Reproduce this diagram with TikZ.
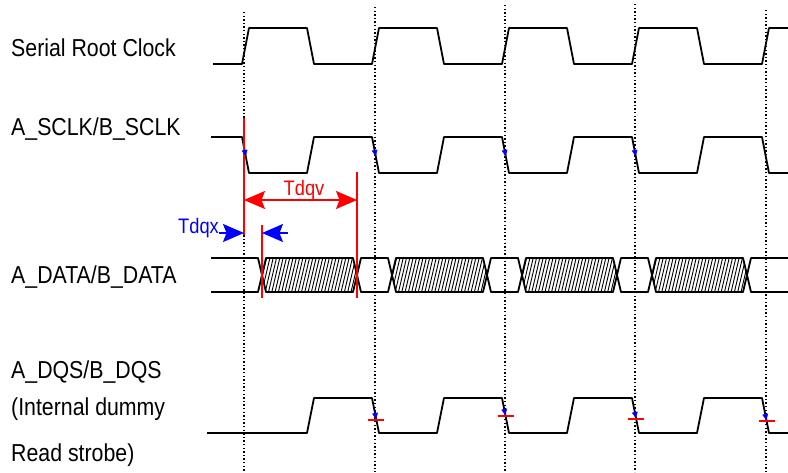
\documentclass[tikz,border=0pt]{standalone}
\usepackage{fontspec}
\setmainfont{Liberation Sans}[FakeStretch=0.87]
\usetikzlibrary{arrows.meta,positioning,calc}

\begin{document}
\begin{tikzpicture}[x=1pt, y=-1pt, >={Stealth[length=21pt,width=18pt,inset=3.5pt]},
  wave/.style={line width=1.8pt, line join=round},
  grid/.style={line width=1.4pt, dash pattern=on 1.4pt off 2.2pt},
  marker/.style={red, line width=1.7pt},
  signame/.style={anchor=base west, inner sep=0pt, font=\fontsize{24.5}{28}\selectfont},
  tlabel/.style={inner sep=0pt, font=\fontsize{21}{24}\selectfont},
  edgetip/.style={blue, line width=0.4pt, -{Latex[length=7pt,width=6pt]}},
  hatch/.style={line width=0.9pt}]

  \useasboundingbox (0,0) rectangle (788,472);

  % Signal names
  \node[signame] (clk)  at (11,56)  {Serial Root Clock};
  \node[signame] (sclk) at (11,135) {A\_SCLK/B\_SCLK};
  \node[signame] (data) at (11,283) {A\_DATA/B\_DATA};
  \node[signame] (dqs)  at (11,378) {A\_DQS/B\_DQS};
  \node[signame] (dqs2) at (11,415) {(Internal dummy};
  \node[signame] (dqs3) at (11,461) {Read strobe)};

  % Dotted grid
  \foreach \x/\t in {244/12, 375/7, 505/5, 635/4, 766/10}
    \draw[grid] (\x,\t) -- (\x,472);

  % Clocks
  \draw[wave] (213,64) \foreach \s in {0,130,260,390} {-- (242+\s,64) -- (249+\s,28) -- (307+\s,28) -- (314+\s,64)} -- (762,64) -- (769,28) -- (788,28);
  \draw[wave] (211,137) \foreach \s in {0,130,260,390} {-- (242+\s,137) -- (249+\s,173) -- (307+\s,173) -- (314+\s,137)} -- (762,137) -- (769,173) -- (788,173);
  \draw[wave] (207,433) \foreach \s in {0,130,260,390} {-- (307+\s,433) -- (314+\s,398) -- (372+\s,398) -- (379+\s,433)} -- (788,433);

  % Data
  \draw[wave] (211,258) -- (258,258) -- (262,275) -- (258,292) -- (211,292);
  \foreach \a in {357,487,617}
    \draw[wave] (\a,275) -- (\a+4,258) -- (\a+31,258) -- (\a+35,275) -- (\a+31,292) -- (\a+4,292) -- cycle;
  \draw[wave] (788,258) -- (751,258) -- (747,275) -- (751,292) -- (788,292);
  \foreach \a in {262,392,522,652} {
    \begin{scope}
      \clip (\a,275) -- (\a+4,258) -- (\a+91,258) -- (\a+95,275) -- (\a+91,292) -- (\a+4,292) -- cycle;
      \foreach \h in {0,3.3,...,110}
        \draw[hatch] (\a-10+\h,292) -- (\a-2+\h,258);
    \end{scope}
    \draw[wave] (\a,275) -- (\a+4,258) -- (\a+91,258) -- (\a+95,275) -- (\a+91,292) -- (\a+4,292) -- cycle;
  }

  % Timing markers
  \coordinate (r0t) at (244,118);
  \coordinate (r0b) at (244,235);
  \coordinate (r1t) at (357,172);
  \coordinate (r1b) at (357,298);
  \coordinate (r2t) at (262,225);
  \coordinate (r2b) at (262,298);
  \draw[marker] (r0t) -- (r0b);
  \draw[marker] (r1t) -- (r1b);
  \draw[marker] (r2t) -- (r2b);

  % Tdqv
  \draw[red, line width=1.3pt, <->] (r0t |- 0,200) -- (r1t |- 0,200);
  \node[tlabel, red, anchor=base] (tdqv) at (304,195) {Tdqv};

  % Tdqx
  \node[tlabel, blue, anchor=base west] (tdqx) at (178,233) {Tdqx};
  \coordinate (xc) at (288,233);
  \draw[blue, line width=1.3pt, ->] (tdqx.base east) -- (r0t |- xc);
  \draw[blue, line width=1.3pt, ->] (xc) -- (r2t |- xc);

  % Edge tips
  \foreach \s in {0,130,260,390}
    \draw[edgetip] (244.4+\s,149.1) -- (245.9+\s,157);
  \foreach \s/\yy in {0/420,130/416,260/419,390/421} {
    \pgfmathsetmacro\edgex{372+\s+0.2*(\yy-398)}
    \draw[edgetip] (\edgex-1.6,\yy-7.8) -- (\edgex,\yy);
    \draw[marker] (\edgex-8,\yy) -- (\edgex+8,\yy);
  }
\end{tikzpicture}
\end{document}
